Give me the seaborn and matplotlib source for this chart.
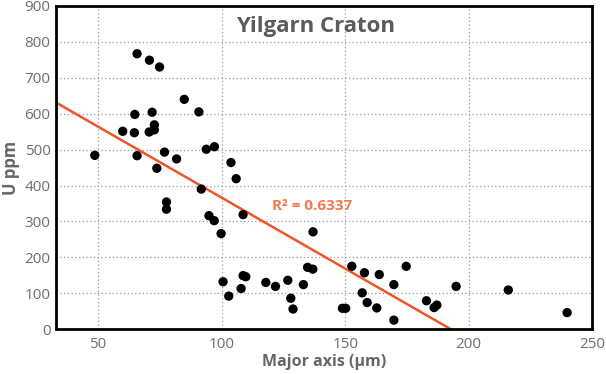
import numpy as np
import pandas as pd
import matplotlib
matplotlib.use("Agg")
import matplotlib.pyplot as plt
import seaborn as sns

major_axis = [48.7, 60.0, 64.9, 64.7, 65.8, 65.8, 70.8, 70.7, 71.9, 72.8, 72.8, 73.8, 74.9,
              76.9, 77.7, 77.7, 81.8, 84.9, 90.8, 91.8, 93.8, 97.1, 94.9, 97.0, 99.8, 103.8,
              105.9, 108.7, 100.6, 102.9, 108.7, 109.8, 107.9, 117.9, 121.8, 126.8, 128.0,
              128.9, 133.1, 134.8, 136.9, 137.0, 148.9, 150.2, 152.7, 157.8, 156.9, 158.9,
              163.8, 162.8, 169.7, 169.7, 174.7, 182.9, 186.0, 187.1, 194.9, 216.0, 239.8]
u_ppm = [484, 551, 598, 547, 767, 483, 749, 549, 604, 569, 555, 448, 730,
         493, 354, 334, 474, 640, 605, 390, 501, 508, 316, 302, 266, 464,
         419, 319, 132, 92, 149, 146, 113, 130, 119, 136, 86,
         56, 124, 172, 167, 271, 58, 58, 175, 157, 101, 74,
         152, 59, 124, 25, 175, 79, 60, 67, 119, 109, 46]
r2_label = "R\u00b2 = 0.6337"
title = "Yilgarn Craton"
x_ticks = [50, 100, 150, 200, 250]
y_ticks = [0, 100, 200, 300, 400, 500, 600, 700, 800, 900]

df = pd.DataFrame({"Major axis (µm)": major_axis, "U ppm": u_ppm})

sns.set_style("white")
plt.rcParams["font.family"] = ["Open Sans", "DejaVu Sans"]

fig = plt.figure(figsize=(6.06, 3.74), dpi=100)
ax = fig.add_axes([0.0924, 0.12, 0.885, 0.864])
ax.set_xlim(33, 250)
ax.set_ylim(0, 900)

sns.regplot(data=df, x="Major axis (µm)", y="U ppm", ax=ax, ci=None, truncate=False,
            scatter_kws=dict(s=45, color="black", edgecolor="none", alpha=1, zorder=3),
            line_kws=dict(color="#f0552a", lw=1.8, zorder=2))

ax.set_xlim(33, 250)
ax.set_ylim(0, 900)
ax.set_xticks(x_ticks)
ax.set_yticks(y_ticks)
ax.grid(True, linestyle=(0, (1, 2)), color="#999999", lw=0.9)
ax.set_axisbelow(True)
for s in ax.spines.values():
    s.set_color("black")
    s.set_linewidth(2)
ax.tick_params(axis="both", length=0, labelsize=11, labelcolor="#6e6e6e")
ax.tick_params(axis="x", pad=6)
ax.tick_params(axis="y", pad=4)
ax.set_xlabel("Major axis (µm)", fontsize=11.5, fontweight="bold", color="#666666", labelpad=1)
ax.set_ylabel("U ppm", fontsize=12, fontweight="bold", color="#666666", labelpad=3)
ax.text(0.483, 0.935, title, transform=ax.transAxes, ha="center", va="center",
        fontsize=16, fontweight="bold", color="#5a5a5a")
ax.text(136.5, 343, r2_label, ha="center", va="center", fontsize=11,
        fontweight="bold", color="#f47a4e")

fig.savefig("out.png", dpi=100)
